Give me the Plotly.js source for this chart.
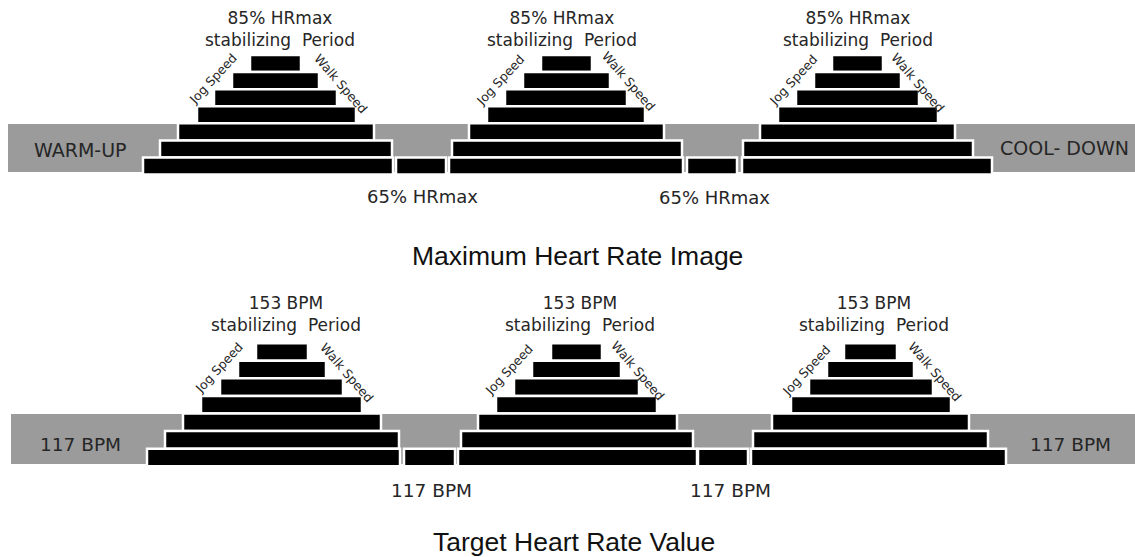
<!DOCTYPE html>
<html>
<head>
<meta charset="utf-8">
<script src="https://cdn.plot.ly/plotly-3.0.1.min.js"></script>
<style>html,body{margin:0;padding:0;background:#fff;}#chart{width:1135px;height:557px;}</style>
</head>
<body>
<div id="chart"></div>
<script>
// ---- data (time axis units, step levels 1 = base .. 7 = peak) ----
const rowLevels = [7, 6, 5, 4, 3, 2, 1];

// Maximum Heart Rate Image (top)
const mhrPyramidStarts = [[250,232,214,197,178,160,143],[541,523,505,487,469,452,449],[832,814,796,778,760,743,742]];
const mhrPyramidEnds   = [[301,319,337,356,374,392,393],[592,610,627,645,664,682,683],[883,901,919,938,955,973,992]];
const mhrLinkStarts = [396, 687];
const mhrLinkEnds   = [446, 737];
const mhrBandStart = 8, mhrBandEnd = 1135;

// Target Heart Rate Value (bottom)
const thrPyramidStarts = [[256,238,220,201,183,165,147],[551,532,514,496,478,461,458],[844,827,809,791,772,753,751]];
const thrPyramidEnds   = [[308,326,343,362,381,399,400],[602,621,639,657,677,693,697],[897,914,933,951,969,988,1006]];
const thrLinkStarts = [404, 698];
const thrLinkEnds   = [455, 748];
const thrBandStart = 11, thrBandEnd = 1135;

// texts
const peakLabels  = ['85% HRmax', '153 BPM'];
const stabLabel   = 'stabilizing\u00a0 Period';
const jogLabel    = 'Jog Speed';
const walkLabel   = 'Walk Speed';
const startLabels = ['WARM-UP', '117 BPM'];
const endLabels   = ['COOL- DOWN', '117 BPM'];
const linkLabels  = ['65% HRmax', '117 BPM'];
const panelTitles = ['Maximum Heart Rate Image', 'Target Heart Rate Value'];

// ---- build ----
const W = 1135, H = 557;
const BLACK = '#000000', GRAY = '#9b9b9b', TXT = '#262626';

function panelTraces(starts, ends, linkS, linkE, bandS, bandE, xa, ya) {
  const traces = [];
  traces.push({
    type: 'bar', orientation: 'h', xaxis: xa, yaxis: ya,
    y: [2.07], base: [bandS], x: [bandE - bandS], width: [2.83],
    marker: {color: GRAY, line: {width: 0}}, hoverinfo: 'skip'
  });
  const ys = [], bs = [], ws = [];
  starts.forEach((st, p) => {
    st.forEach((s, i) => { ys.push(rowLevels[i]); bs.push(s); ws.push(ends[p][i] - s); });
  });
  linkS.forEach((s, i) => { ys.push(1); bs.push(s); ws.push(linkE[i] - s); });
  traces.push({
    type: 'bar', orientation: 'h', xaxis: xa, yaxis: ya,
    y: ys, base: bs, x: ws, width: 1,
    marker: {color: BLACK, line: {color: '#ffffff', width: 2.5}}, hoverinfo: 'skip'
  });
  return traces;
}

const data = [].concat(
  panelTraces(mhrPyramidStarts, mhrPyramidEnds, mhrLinkStarts, mhrLinkEnds, mhrBandStart, mhrBandEnd, 'x', 'y'),
  panelTraces(thrPyramidStarts, thrPyramidEnds, thrLinkStarts, thrLinkEnds, thrBandStart, thrBandEnd, 'x2', 'y2')
);

function ann(text, px, py, size, opts) {
  return Object.assign({
    text: text, xref: 'paper', yref: 'paper', x: px / W, y: 1 - py / H,
    xanchor: 'center', yanchor: 'middle', showarrow: false, borderpad: 0,
    font: {family: 'DejaVu Sans, sans-serif', size: size, color: TXT}
  }, opts || {});
}

const annotations = [];
// peak headers (two lines each)
const topHeadX = [280, 562, 858];
const botHeadX = [286, 580, 874];
topHeadX.forEach(x => annotations.push(ann(peakLabels[0] + '<br>' + stabLabel, x, 29, 17)));
botHeadX.forEach(x => annotations.push(ann(peakLabels[1] + '<br>' + stabLabel, x, 313.5, 17)));

const topJog = [[212, 79], [500, 81], [793, 81]], topWalk = [[341, 83], [628, 81], [918, 82]];
const botJog = [[218, 368], [508, 370], [806, 370]], botWalk = [[347, 372], [638, 370], [935, 371]];
topJog.concat(botJog).forEach(p => annotations.push(ann(jogLabel, p[0], p[1], 12.5, {textangle: -47})));
topWalk.concat(botWalk).forEach(p => annotations.push(ann(walkLabel, p[0], p[1], 12.5, {textangle: 49})));

annotations.push(ann(startLabels[0], 80, 150, 19));
annotations.push(ann(endLabels[0], 1064, 148, 19));
annotations.push(ann(linkLabels[0], 422, 196, 18));
annotations.push(ann(linkLabels[0], 714, 197, 18));
annotations.push(ann(startLabels[1], 80, 444, 18.5));
annotations.push(ann(endLabels[1], 1070, 444, 18.5));
annotations.push(ann(linkLabels[1], 431, 490, 18.5));
annotations.push(ann(linkLabels[1], 730, 490, 18.5));

const titleFont = {family: 'Liberation Sans, Arial, sans-serif', size: 26.5, color: '#111111'};
annotations.push(ann(panelTitles[0], 577, 256, 26.5, {font: titleFont}));
annotations.push(ann(panelTitles[1], 574, 542, 26.5, {font: titleFont}));

const hiddenX = {range: [0, W], domain: [0, 1], visible: false, showgrid: false, zeroline: false, fixedrange: true};
const layout = {
  width: W, height: H,
  margin: {l: 0, r: 0, t: 0, b: 0, pad: 0},
  paper_bgcolor: '#ffffff', plot_bgcolor: 'rgba(0,0,0,0)',
  showlegend: false, barmode: 'overlay', bargap: 0,
  xaxis: Object.assign({anchor: 'y'}, hiddenX),
  xaxis2: Object.assign({anchor: 'y2'}, hiddenX),
  yaxis: {range: [0, 8], domain: [0.6713, 0.9166], visible: false, showgrid: false, zeroline: false, anchor: 'x'},
  yaxis2: {range: [0, 8], domain: [0.1471, 0.3997], visible: false, showgrid: false, zeroline: false, anchor: 'x2'},
  annotations: annotations
};

Plotly.newPlot('chart', data, layout, {staticPlot: true, displayModeBar: false});
</script>
</body>
</html>
